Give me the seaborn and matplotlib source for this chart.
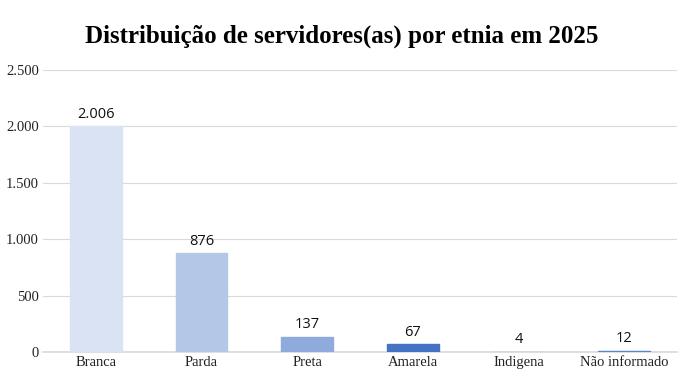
import matplotlib
matplotlib.use("Agg")
import matplotlib.pyplot as plt
import seaborn as sns
import pandas as pd

categorias = ["Branca", "Parda", "Preta", "Amarela", "Indigena", "Não informado"]
servidores = [2006, 876, 137, 67, 4, 12]
rotulos = ["2.006", "876", "137", "67", "4", "12"]
cores = ["#DAE3F3", "#B4C7E7", "#8FAADC", "#4472C4", "#B4C7E7", "#5B83CB"]
ticks_y = [0, 500, 1000, 1500, 2000, 2500]
ticks_y_txt = ["0", "500", "1.000", "1.500", "2.000", "2.500"]

sns.set_theme(style="white")
plt.rcParams['font.family'] = ['Liberation Serif', 'DejaVu Serif']

df = pd.DataFrame({"etnia": categorias, "total": servidores})

fig = plt.figure(figsize=(6.84, 3.76), dpi=100)
ax = fig.add_axes([43 / 684, 24 / 376, 634 / 684, 282 / 376])

sns.barplot(data=df, x="etnia", y="total", hue="etnia", palette=cores,
            legend=False, width=0.49, ax=ax, saturation=1)

# contorno da mesma cor para que barras pequenas fiquem visiveis
for cont in ax.containers:
    for p in cont:
        p.set_edgecolor(p.get_facecolor())
        p.set_linewidth(1.0)
        p.set_zorder(3)

ax.set_ylim(0, 2500)
ax.set_yticks(ticks_y)
ax.set_yticklabels(ticks_y_txt)
ax.set_xlabel("")
ax.set_ylabel("")
ax.yaxis.grid(True, color="#D9D9D9", linewidth=0.8)
ax.set_axisbelow(True)
for s in ["top", "right", "left"]:
    ax.spines[s].set_visible(False)
ax.spines["bottom"].set_color("#D9D9D9")
ax.spines["bottom"].set_linewidth(1.2)
ax.spines["bottom"].set_zorder(1)
ax.tick_params(axis="both", length=0, labelsize=10.5, colors="#222222", pad=3)

for i, cont in enumerate(ax.containers):
    ax.bar_label(cont, labels=[rotulos[i]], padding=3, fontsize=10.5,
                 family="Open Sans", color="#111111")

fig.suptitle("Distribuição de servidores(as) por etnia em 2025", x=0.5, y=0.935,
             fontsize=18, fontweight="bold", color="black")

fig.savefig("out.png", dpi=100)
